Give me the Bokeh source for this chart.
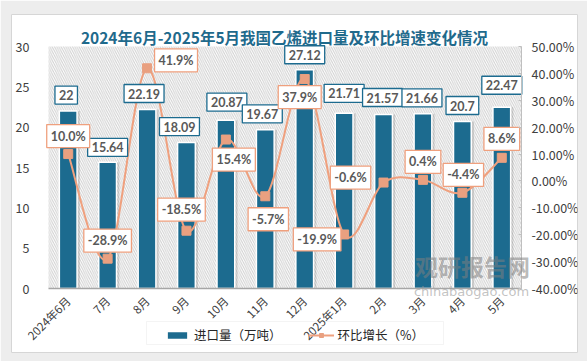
from bokeh.plotting import figure
from bokeh.models import (ColumnDataSource, Range1d, LinearAxis, BoxAnnotation, CustomJSTickFormatter,
                          Legend, LegendItem, Label, PrintfTickFormatter, FixedTicker)
from bokeh.transform import dodge
from bokeh.core.properties import value
from bokeh.embed import file_html
from bokeh.resources import INLINE
import numpy as np

# ---- data ----
title = "2024年6月-2025年5月我国乙烯进口量及环比增速变化情况"
months = ["2024年6月", "7月", "8月", "9月", "10月", "11月", "12月",
          "2025年1月", "2月", "3月", "4月", "5月"]
imports = [22, 15.64, 22.19, 18.09, 20.87, 19.67, 27.12, 21.71, 21.57, 21.66, 20.7, 22.47]
mom_pct = [10.0, -28.9, 41.9, -18.5, 15.4, -5.7, 37.9, -19.9, -0.6, 0.4, -4.4, 8.6]
left_ticks = [0, 5, 10, 15, 20, 25, 30]
right_ticks = [-40, -30, -20, -10, 0, 10, 20, 30, 40, 50]

# label placement (pixels), kept apart from data
bar_lbl_dx = [-2, 0, -3, -7, 1, -3, 0, 0, -1, -1, 0, 0]
bar_lbl_dy = [-16, -15, -16, -16, -18, -16, -15, -20, -17, -16, -16, -22]
pct_lbl_dx = [0, 0, 29, -5, 8, 3, -5, -27, -33, 0, 1, 0]
pct_lbl_dy = [-18, -18, -8, -21, 20, 23, 18, 5, -5, -18, -18, -19]

BAR = "#1C6B8F"
LINE = "#EFA07E"
MARK = "#E9A080"
TXT = "#404040"
CJK = "Noto Sans CJK SC"

# ---- layout (pixels on the page) ----
W, H = 587, 361
CARD_L, CARD_T, CARD_R, CARD_B = 11, 14, 577, 352       # white card == plot frame
AREA_L, AREA_T, AREA_R, AREA_B = 48, 46, 521, 288       # value area inside the card
LEG_L, LEG_T, LEG_R, LEG_B = 146, 321, 443, 344         # legend box
ncat = len(months)
l_lo, l_hi = 0, 30
r_lo, r_hi = -40, 50
px_x = (AREA_R - AREA_L) / ncat
px_l = (AREA_B - AREA_T) / (l_hi - l_lo)
px_r = (AREA_B - AREA_T) / (r_hi - r_lo)
x_rng = Range1d(-(AREA_L - CARD_L) / px_x, ncat + (CARD_R - AREA_R) / px_x)
y_rng = Range1d(l_lo - (CARD_B - AREA_B) / px_l, l_hi + (AREA_T - CARD_T) / px_l)
r_rng = Range1d(r_lo - (CARD_B - AREA_B) / px_r, r_hi + (AREA_T - CARD_T) / px_r)

p = figure(width=W, height=H, x_range=x_rng, y_range=y_rng, output_backend="svg",
           toolbar_location=None, min_border_left=CARD_L, min_border_right=W - CARD_R,
           min_border_top=CARD_T, min_border_bottom=H - CARD_B)
p.title.visible = False
p.extra_y_ranges = {"pct": r_rng}
p.outline_line_color = "#d6d6d6"
p.xgrid.grid_line_color = None
p.ygrid.grid_line_color = None
p.background_fill_color = "white"
p.border_fill_color = "#ededed"

# hatched value area
p.add_layout(BoxAnnotation(left=0, right=ncat, bottom=l_lo, top=l_hi, fill_color="white",
                           fill_alpha=1, line_color=None, hatch_pattern="\\",
                           hatch_color="#cfcfcf", hatch_scale=4.5, hatch_weight=1,
                           level="underlay"))

xs = np.arange(ncat) + 0.5
src = ColumnDataSource(dict(x=xs, v=imports, pct=mom_pct,
                            vt=[f"{v:g}" for v in imports],
                            pt=[f"{v:.1f}%" for v in mom_pct],
                            bdx=bar_lbl_dx, bdy=bar_lbl_dy, pdx=pct_lbl_dx, pdy=pct_lbl_dy))

# bar shadow + bars
p.vbar(x=dodge("x", 0.07), top="v", width=0.45, source=src,
       fill_color="black", fill_alpha=0.13, line_color=None)
bars = p.vbar(x="x", top="v", width=0.45, source=src, fill_color=BAR,
              line_color="white", line_width=1.5)

# smoothed line (Catmull-Rom bezier through the data points)
ys = np.array(mom_pct, dtype=float)
x0, y0, x1, y1, cx0, cy0, cx1, cy1 = [], [], [], [], [], [], [], []
for i in range(ncat - 1):
    pm = max(i - 1, 0)
    pn = min(i + 2, ncat - 1)
    x0.append(xs[i]); y0.append(ys[i]); x1.append(xs[i + 1]); y1.append(ys[i + 1])
    cx0.append(xs[i] + (xs[i + 1] - xs[pm]) / 6); cy0.append(ys[i] + (ys[i + 1] - ys[pm]) / 6)
    cx1.append(xs[i + 1] - (xs[pn] - xs[i]) / 6); cy1.append(ys[i + 1] - (ys[pn] - ys[i]) / 6)
bz = p.bezier(x0=x0, y0=y0, x1=x1, y1=y1, cx0=cx0, cy0=cy0, cx1=cx1, cy1=cy1,
              line_color=LINE, line_width=2, y_range_name="pct")
mk = p.scatter(x="x", y="pct", source=src, marker="square", size=9, fill_color=MARK,
               line_color=MARK, y_range_name="pct")

# data labels
p.text(x="x", y="v", text="vt", source=src, x_offset="bdx", y_offset="bdy",
       text_align="center", text_baseline="middle", text_font=value("Lato"),
       text_font_style="bold", text_font_size="12.5px", text_color="#595959",
       padding=4, background_fill_color="white", border_line_color=BAR, border_line_width=1.3)
p.text(x="x", y="pct", text="pt", source=src, x_offset="pdx", y_offset="pdy",
       y_range_name="pct",
       text_align="center", text_baseline="middle", text_font=value("Lato"),
       text_font_style="bold", text_font_size="12.5px", text_color="#595959",
       padding=4, background_fill_color="white", border_line_color=LINE, border_line_width=1.3)

# axes (fixed inside the card)
p.yaxis.fixed_location = 0
p.yaxis.ticker = FixedTicker(ticks=left_ticks)
p.yaxis.axis_line_color = None
p.yaxis.major_tick_line_color = None
p.yaxis.minor_tick_line_color = None
p.yaxis.major_label_text_font = CJK
p.yaxis.major_label_text_font_size = "12.5px"
p.yaxis.major_label_text_color = TXT
p.yaxis.major_label_standoff = 13

ra = LinearAxis(y_range_name="pct", ticker=FixedTicker(ticks=right_ticks),
                formatter=PrintfTickFormatter(format="%.2f%%"), bounds=(r_lo, r_hi),
                fixed_location=ncat)
ra.axis_line_color = "#bfbfbf"
ra.major_tick_line_color = "#bfbfbf"
ra.major_tick_in = 3
ra.major_tick_out = 0
ra.minor_tick_line_color = None
ra.major_label_text_font = CJK
ra.major_label_text_font_size = "12.5px"
ra.major_label_text_color = TXT
ra.major_label_standoff = 10
p.add_layout(ra, "right")

p.xaxis.fixed_location = 0
p.xaxis.bounds = (0, ncat)
p.xaxis.ticker = FixedTicker(ticks=list(xs))
p.xaxis.formatter = CustomJSTickFormatter(args=dict(labels=months),
                                          code="return labels[Math.round(tick - 0.5)] ?? ''")
p.xaxis.axis_line_color = "#a6a6a6"
p.xaxis.axis_line_width = 1.5
p.xaxis.major_tick_line_color = None
p.xaxis.minor_tick_line_color = None
p.xaxis.major_label_orientation = np.pi / 4
p.xaxis.major_label_text_font = CJK
p.xaxis.major_label_text_font_size = "11.5px"
p.xaxis.major_label_text_color = TXT
p.xaxis.major_label_standoff = 4

# title
p.add_layout(Label(x=273, y=CARD_B - 36, x_units="screen", y_units="screen", text=title,
                   text_align="center", text_baseline="middle", text_font=CJK,
                   text_font_style="bold", text_font_size="15.5px", text_color="#1F6A8C"))

# watermark
p.add_layout(Label(x=461, y=87, x_units="screen", y_units="screen", text="观研报告网",
                   text_align="center", text_baseline="middle", text_font=CJK,
                   text_font_style="bold", text_font_size="23px", text_color="#7f7f7f",
                   text_alpha=0.55))
p.add_layout(Label(x=460, y=61, x_units="screen", y_units="screen", text="chinabaogao.com",
                   text_align="center", text_baseline="middle", text_font="DejaVu Sans",
                   text_font_size="13px", text_color="#9a9a9a", text_alpha=0.6))

# legend frame + legend
p.add_layout(BoxAnnotation(left=LEG_L, right=LEG_R, top=LEG_T, bottom=LEG_B,
                           left_units="canvas", right_units="canvas", top_units="canvas",
                           bottom_units="canvas", fill_alpha=0, line_color="#d9d9d9",
                           line_width=1, level="underlay"))
legend = Legend(items=[LegendItem(label="进口量（万吨）", renderers=[bars]),
                       LegendItem(label="环比增长（%）", renderers=[bz, mk])],
                orientation="horizontal", location=(153, 8),
                label_text_font=CJK, label_text_font_size="12.5px", label_text_color="#262626",
                glyph_width=26, glyph_height=10, spacing=26, padding=3, margin=0,
                label_standoff=4, border_line_color=None, background_fill_alpha=0)
p.add_layout(legend, "center")

open("out.html", "w").write(file_html(p, INLINE))
